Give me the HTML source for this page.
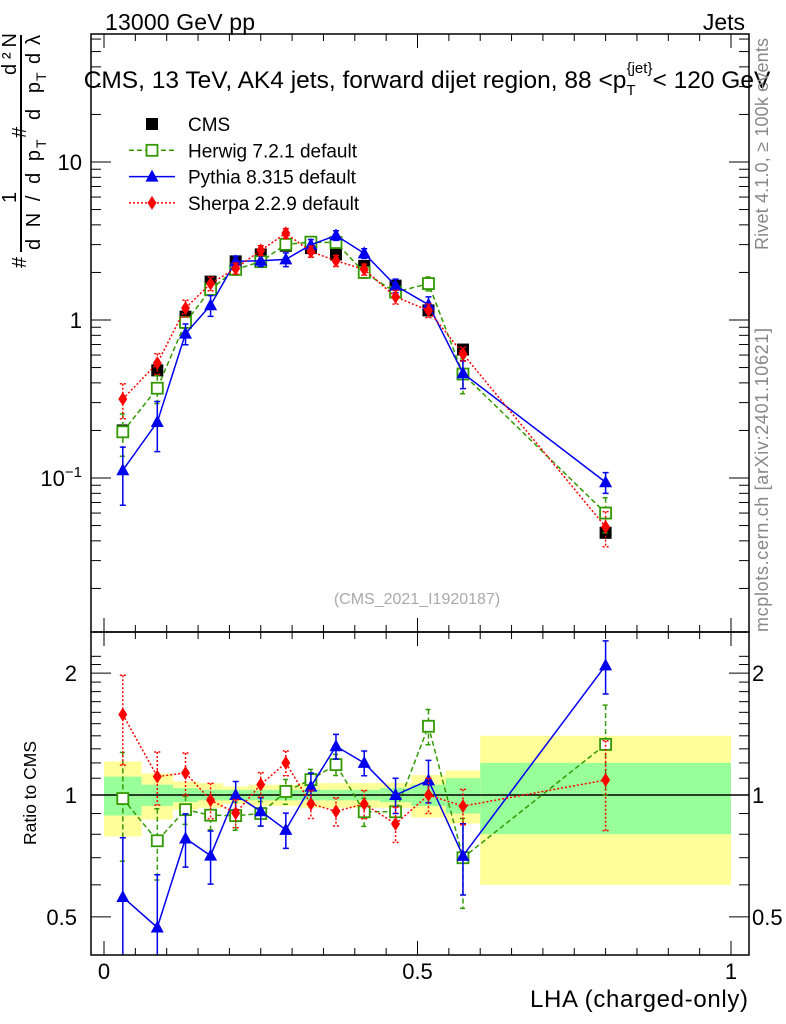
<!DOCTYPE html>
<html><head><meta charset="utf-8"><style>
body{margin:0;background:#fff;}
svg{display:block;font-family:"Liberation Sans",sans-serif;}
</style></head><body>
<svg id="c" width="786" height="1024" viewBox="0 0 786 1024">
<text x="105" y="30" font-size="23" textLength="150">13000 GeV pp</text>
<text x="745" y="30" font-size="23" text-anchor="end">Jets</text>
<text x="427" y="88" font-size="24.5" text-anchor="middle">CMS, 13 TeV, AK4 jets, forward dijet region, 88 &lt;p<tspan font-size="15" dy="7">T</tspan><tspan font-size="15" dy="-22" dx="-9">{jet}</tspan><tspan dy="15">&lt; 120 GeV</tspan></text>
<g transform="rotate(-90)" font-size="20">
<text x="-268" y="26">#</text>
<text x="-250" y="40" textLength="100" lengthAdjust="spacing">d N / d p</text>
<text x="-148" y="46" font-size="14">T</text>
<text x="-203" y="16">1</text>
<line x1="-252" y1="21" x2="-35" y2="21" stroke="#000" stroke-width="2"/>
<text x="-138" y="26">#</text>
<text x="-120" y="40" textLength="38" lengthAdjust="spacing">d p</text>
<text x="-81" y="46" font-size="14">T</text>
<text x="-64" y="40" textLength="29" lengthAdjust="spacing">d λ</text>
<text x="-75" y="16" textLength="42">d²N</text>
</g>
<text transform="translate(768,144) rotate(-90)" font-size="18" fill="#888" text-anchor="middle" textLength="212">Rivet 4.1.0, ≥ 100k events</text>
<text transform="translate(768,480) rotate(-90)" font-size="18" fill="#888" text-anchor="middle" textLength="304">mcplots.cern.ch [arXiv:2401.10621]</text>
<text x="417" y="604" font-size="16" fill="#aaa" text-anchor="middle">(CMS_2021_I1920187)</text>
<text transform="translate(36,793) rotate(-90)" font-size="17.5" text-anchor="middle">Ratio to CMS</text>
<text x="748" y="1007" font-size="24" text-anchor="end" textLength="218">LHA (charged-only)</text>
<g id="g"></g>
</svg>
<script>
const edges=[0,0.06,0.11,0.15,0.19,0.23,0.27,0.31,0.35,0.39,0.44,0.49,0.545,0.6,1.0];
const centers=[0.03,0.085,0.13,0.17,0.21,0.25,0.29,0.33,0.37,0.415,0.465,0.5175,0.5725,0.8];
const cms=[0.2,0.48,1.05,1.75,2.35,2.6,2.95,2.85,2.6,2.2,1.65,1.15,0.65,0.045];
const cmsTot=[0.21,0.13,0.08,0.07,0.05,0.06,0.06,0.07,0.07,0.07,0.07,0.12,0.15,0.4];
const cmsStat=[0.11,0.06,0.04,0.03,0.03,0.03,0.03,0.03,0.03,0.03,0.04,0.06,0.1,0.2];
const herwig=[0.196,0.37,0.966,1.56,2.09,2.34,3.01,3.11,3.09,2.0,1.5,1.7,0.455,0.06];
const herwigErr=[0.3,0.2,0.08,0.08,0.08,0.07,0.07,0.06,0.06,0.08,0.08,0.1,0.25,0.25];
const pythia=[0.112,0.226,0.82,1.24,2.35,2.37,2.42,2.99,3.43,2.64,1.65,1.25,0.46,0.094];
const pythiaErr=[0.4,0.35,0.15,0.15,0.08,0.08,0.1,0.08,0.07,0.07,0.1,0.12,0.2,0.15];
const sherpa=[0.316,0.533,1.19,1.7,2.12,2.76,3.54,2.71,2.37,2.09,1.4,1.15,0.61,0.049];
const sherpaErr=[0.25,0.15,0.12,0.1,0.08,0.07,0.07,0.08,0.08,0.08,0.1,0.1,0.1,0.25];
const xTicks=[0,0.5,1];
const yTicks=[0.1,1,10];
const rTicks=[0.5,1,2];
const NS="http://www.w3.org/2000/svg",g=document.getElementById('g');
const X=v=>104+627*v, Y=v=>320-158*Math.log10(v), R=v=>795-405*Math.log10(v);
const L=91,Rt=749,T1=34,B1=632,B2=955;
function el(t,a,p){const e=document.createElementNS(NS,t);for(const k in a)e.setAttribute(k,a[k]);(p||g).appendChild(e);return e;}
const defs=el('defs',{});
const c1=el('clipPath',{id:'c1'},defs);el('rect',{x:L,y:T1,width:Rt-L,height:B1-T1},c1);
const c2=el('clipPath',{id:'c2'},defs);el('rect',{x:L,y:B1,width:Rt-L,height:B2-B1},c2);
const gm=el('g',{'clip-path':'url(#c1)'});


const gr=el('g',{'clip-path':'url(#c2)'});


for(let i=0;i<cms.length;i++){
 const x0=X(edges[i]),x1=X(edges[i+1]);
 const b=el('rect',{x:x0,y:R(1+cmsTot[i]),width:x1-x0,height:R(1-cmsTot[i])-R(1+cmsTot[i]),fill:'#ffff99'},gr);
 
 
 const s=el('rect',{x:x0,y:R(1+cmsStat[i]),width:x1-x0,height:R(1-cmsStat[i])-R(1+cmsStat[i]),fill:'#99ff99'},gr);
 
 
}
el('line',{x1:L,x2:Rt,y1:R(1),y2:R(1),stroke:'#000','stroke-width':1.5},gr);
function marker(p,type,x,y,col){
 let m;
 if(type==='sq') m=el('rect',{x:x-6,y:y-6,width:12,height:12,fill:'#000'},p);
 else if(type==='osq') m=el('rect',{x:x-5.5,y:y-5.5,width:11,height:11,fill:'#fff',stroke:col,'stroke-width':1.8},p);
 else if(type==='tri') m=el('polygon',{points:`${x},${y-7} ${x-6.5},${y+5} ${x+6.5},${y+5}`,fill:col},p);
 else m=el('polygon',{points:`${x},${y-7} ${x-4.5},${y} ${x},${y+7} ${x+4.5},${y}`,fill:col},p);
 return m;
}
function series(name,vals,errs,col,dash,type){
 for(const panel of ['main','ratio']){
  const p=panel==='main'?gm:gr;
  const sg=el('g',{},p);
  
  
  const yv=i=>panel==='main'?vals[i]:vals[i]/cms[i];
  const Yf=panel==='main'?Y:R;
  let d='';
  vals.forEach((v,i)=>{d+=(i?'L':'M')+X(centers[i])+','+Yf(yv(i));});
  if(type!=='sq'){const ln=el('path',{d,fill:'none',stroke:col,'stroke-width':1.5,'stroke-dasharray':dash},sg);
   
   }
  vals.forEach((v,i)=>{
   const x=X(centers[i]),y=Yf(yv(i));
   if(type!=='sq'){const e=errs[i];
    const eb=el('path',{d:`M${x},${Yf(yv(i)*(1+e))}V${Yf(Math.max(yv(i)*(1-e),1e-3))}M${x-3},${Yf(yv(i)*(1+e))}h6M${x-3},${Yf(Math.max(yv(i)*(1-e),1e-3))}h6`,stroke:col,'stroke-width':1.5,'stroke-dasharray':dash,fill:'none'},sg);
    
    }
   if(panel==='ratio'&&type==='sq')return;
   const m=marker(sg,type,x,y,col);
   
   
  });
 }
}
series('cms',cms,cmsTot,'#000','','sq');
series('herwig',herwig,herwigErr,'#339900','5,3','osq');
series('pythia',pythia,pythiaErr,'#0000ee','','tri');
series('sherpa',sherpa,sherpaErr,'#ff0000','2,2','dia');
for(const [t,b] of [[T1,B1],[B1,B2]]){
 const f=el('rect',{x:L,y:t,width:Rt-L,height:b-t,fill:'none',stroke:'#000','stroke-width':1.5});
 
 
 for(let v=0;v<=1.0001;v+=0.05){const big=Math.abs(v*2-Math.round(v*2))<1e-6,len=big?14:7;
  el('line',{x1:X(v),x2:X(v),y1:b,y2:b-len,stroke:'#000'});el('line',{x1:X(v),x2:X(v),y1:t,y2:t+len,stroke:'#000'});}
}
for(let dec=-2;dec<=1;dec++)for(let k=1;k<10;k++){const v=k*Math.pow(10,dec),y=Y(v);if(y<T1||y>B1)continue;const len=k===1?20:10;
 el('line',{x1:L,x2:L+len,y1:y,y2:y,stroke:'#000'});el('line',{x1:Rt,x2:Rt-len,y1:y,y2:y,stroke:'#000'});}
yTicks.forEach(v=>{const t=el('text',{x:82,y:Y(v)+8,'font-size':22,'text-anchor':'end'});
 
 
 if(v===0.1){t.textContent='10';const s=el('tspan',{'font-size':15,dy:-9},t);s.textContent='−1';}else t.textContent=v;});
for(let v=0.4;v<=2.3;v+=0.1){const y=R(v);if(y<B1||y>B2)continue;const big=[0.5,1,2].some(q=>Math.abs(q-v)<1e-6);const len=big?20:10;
 el('line',{x1:L,x2:L+len,y1:y,y2:y,stroke:'#000'});el('line',{x1:Rt,x2:Rt-len,y1:y,y2:y,stroke:'#000'});}
rTicks.forEach(v=>{for(const [x,a] of [[77,'end'],[752,'start']]){const t=el('text',{x,y:R(v)+8,'font-size':22,'text-anchor':a});
 
 
 t.textContent=v;}});
xTicks.forEach(v=>{const t=el('text',{x:X(v),y:979,'font-size':22,'text-anchor':'middle'});
 
 
 t.textContent=v;});
const leg=[['CMS','#000','','sq'],['Herwig 7.2.1 default','#339900','5,3','osq'],['Pythia 8.315 default','#0000ee','','tri'],['Sherpa 2.2.9 default','#ff0000','2,2','dia']];
leg.forEach((l,i)=>{const y=124+i*26.3;const lg=el('g',{});
 
 
 if(l[3]!=='sq')el('line',{x1:129,x2:175,y1:y,y2:y,stroke:l[1],'stroke-width':1.5,'stroke-dasharray':l[2]},lg);
 marker(lg,l[3],152,y,l[1]);
 const t=el('text',{x:188,y:y+7,'font-size':19},lg);t.textContent=l[0];});
</script>
</body></html>
